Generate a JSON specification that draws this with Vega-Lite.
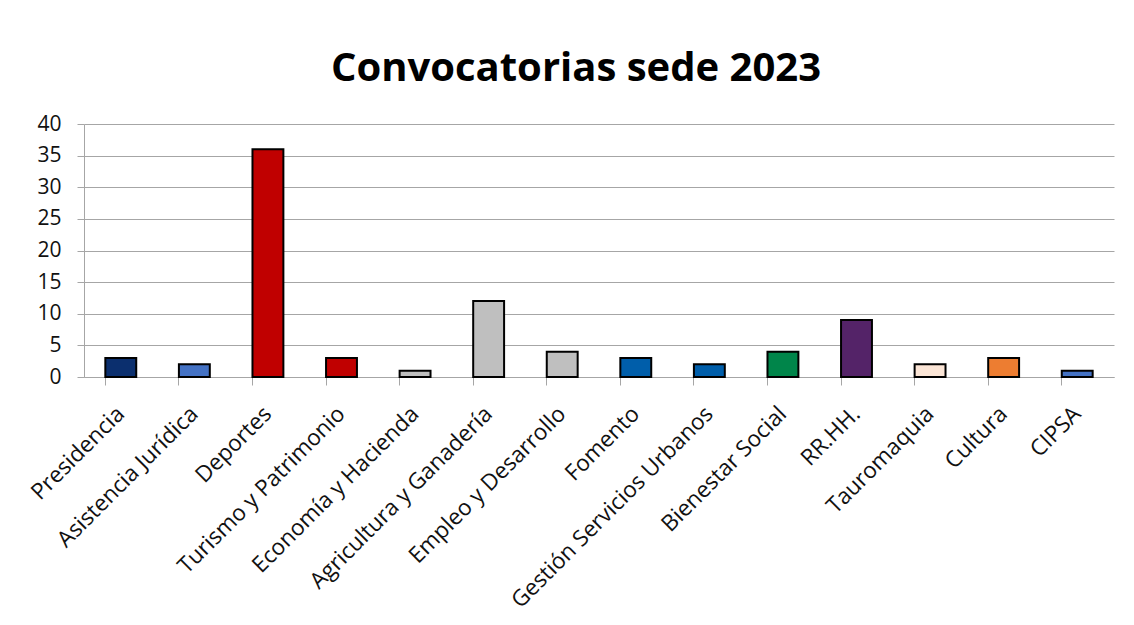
{
  "$schema": "https://vega.github.io/schema/vega-lite/v6.json",
  "width": 1030,
  "height": 253,
  "autosize": {"type": "none"},
  "padding": {"left": 84, "top": 124, "right": 20, "bottom": 248},
  "background": "white",
  "title": {
    "text": "Convocatorias sede 2023",
    "fontSize": 40,
    "fontWeight": "bold",
    "font": "Open Sans",
    "color": "#000000",
    "anchor": "middle",
    "dx": -23,
    "offset": 24
  },
  "data": {
    "values": [
      {"area": "Presidencia", "n": 3, "color": "#0B2F6E"},
      {"area": "Asistencia Jurídica", "n": 2, "color": "#4472C4"},
      {"area": "Deportes", "n": 36, "color": "#C00000"},
      {"area": "Turismo y Patrimonio", "n": 3, "color": "#C00000"},
      {"area": "Economía y Hacienda", "n": 1, "color": "#BFBFBF"},
      {"area": "Agricultura y Ganadería", "n": 12, "color": "#BFBFBF"},
      {"area": "Empleo y Desarrollo", "n": 4, "color": "#BFBFBF"},
      {"area": "Fomento", "n": 3, "color": "#005EAA"},
      {"area": "Gestión Servicios Urbanos", "n": 2, "color": "#005EAA"},
      {"area": "Bienestar Social", "n": 4, "color": "#00854A"},
      {"area": "RR.HH.", "n": 9, "color": "#542368"},
      {"area": "Tauromaquia", "n": 2, "color": "#FBE5D6"},
      {"area": "Cultura", "n": 3, "color": "#ED7D31"},
      {"area": "CIPSA", "n": 1, "color": "#4472C4"}
    ]
  },
  "mark": {"type": "bar", "stroke": "#000000", "strokeWidth": 2},
  "encoding": {
    "x": {
      "field": "area",
      "type": "nominal",
      "sort": null,
      "title": null,
      "scale": {"paddingInner": 0.58, "paddingOuter": 0.29},
      "axis": {
        "labelAngle": -45,
        "labelAlign": "right",
        "labelBaseline": "middle",
        "labelFont": "Open Sans",
        "labelFontSize": 22.5,
        "labelColor": "#111111",
        "labelPadding": 25,
        "labelOffset": 0,
        "bandPosition": 0,
        "tickSize": 8,
        "tickColor": "#A6A6A6",
        "domainColor": "#A6A6A6",
        "labelOverlap": false,
        "labelLimit": 400
      }
    },
    "y": {
      "field": "n",
      "type": "quantitative",
      "title": null,
      "scale": {"domain": [0, 40]},
      "axis": {
        "values": [0, 5, 10, 15, 20, 25, 30, 35, 40],
        "labelFont": "Open Sans",
        "labelFontSize": 21,
        "labelColor": "#111111",
        "labelPadding": 16,
        "tickSize": 7,
        "tickColor": "#A6A6A6",
        "domainColor": "#A6A6A6",
        "gridColor": "#A6A6A6",
        "gridWidth": 1
      }
    },
    "color": {"field": "color", "type": "nominal", "scale": null, "legend": null}
  },
  "config": {"view": {"stroke": null}}
}
